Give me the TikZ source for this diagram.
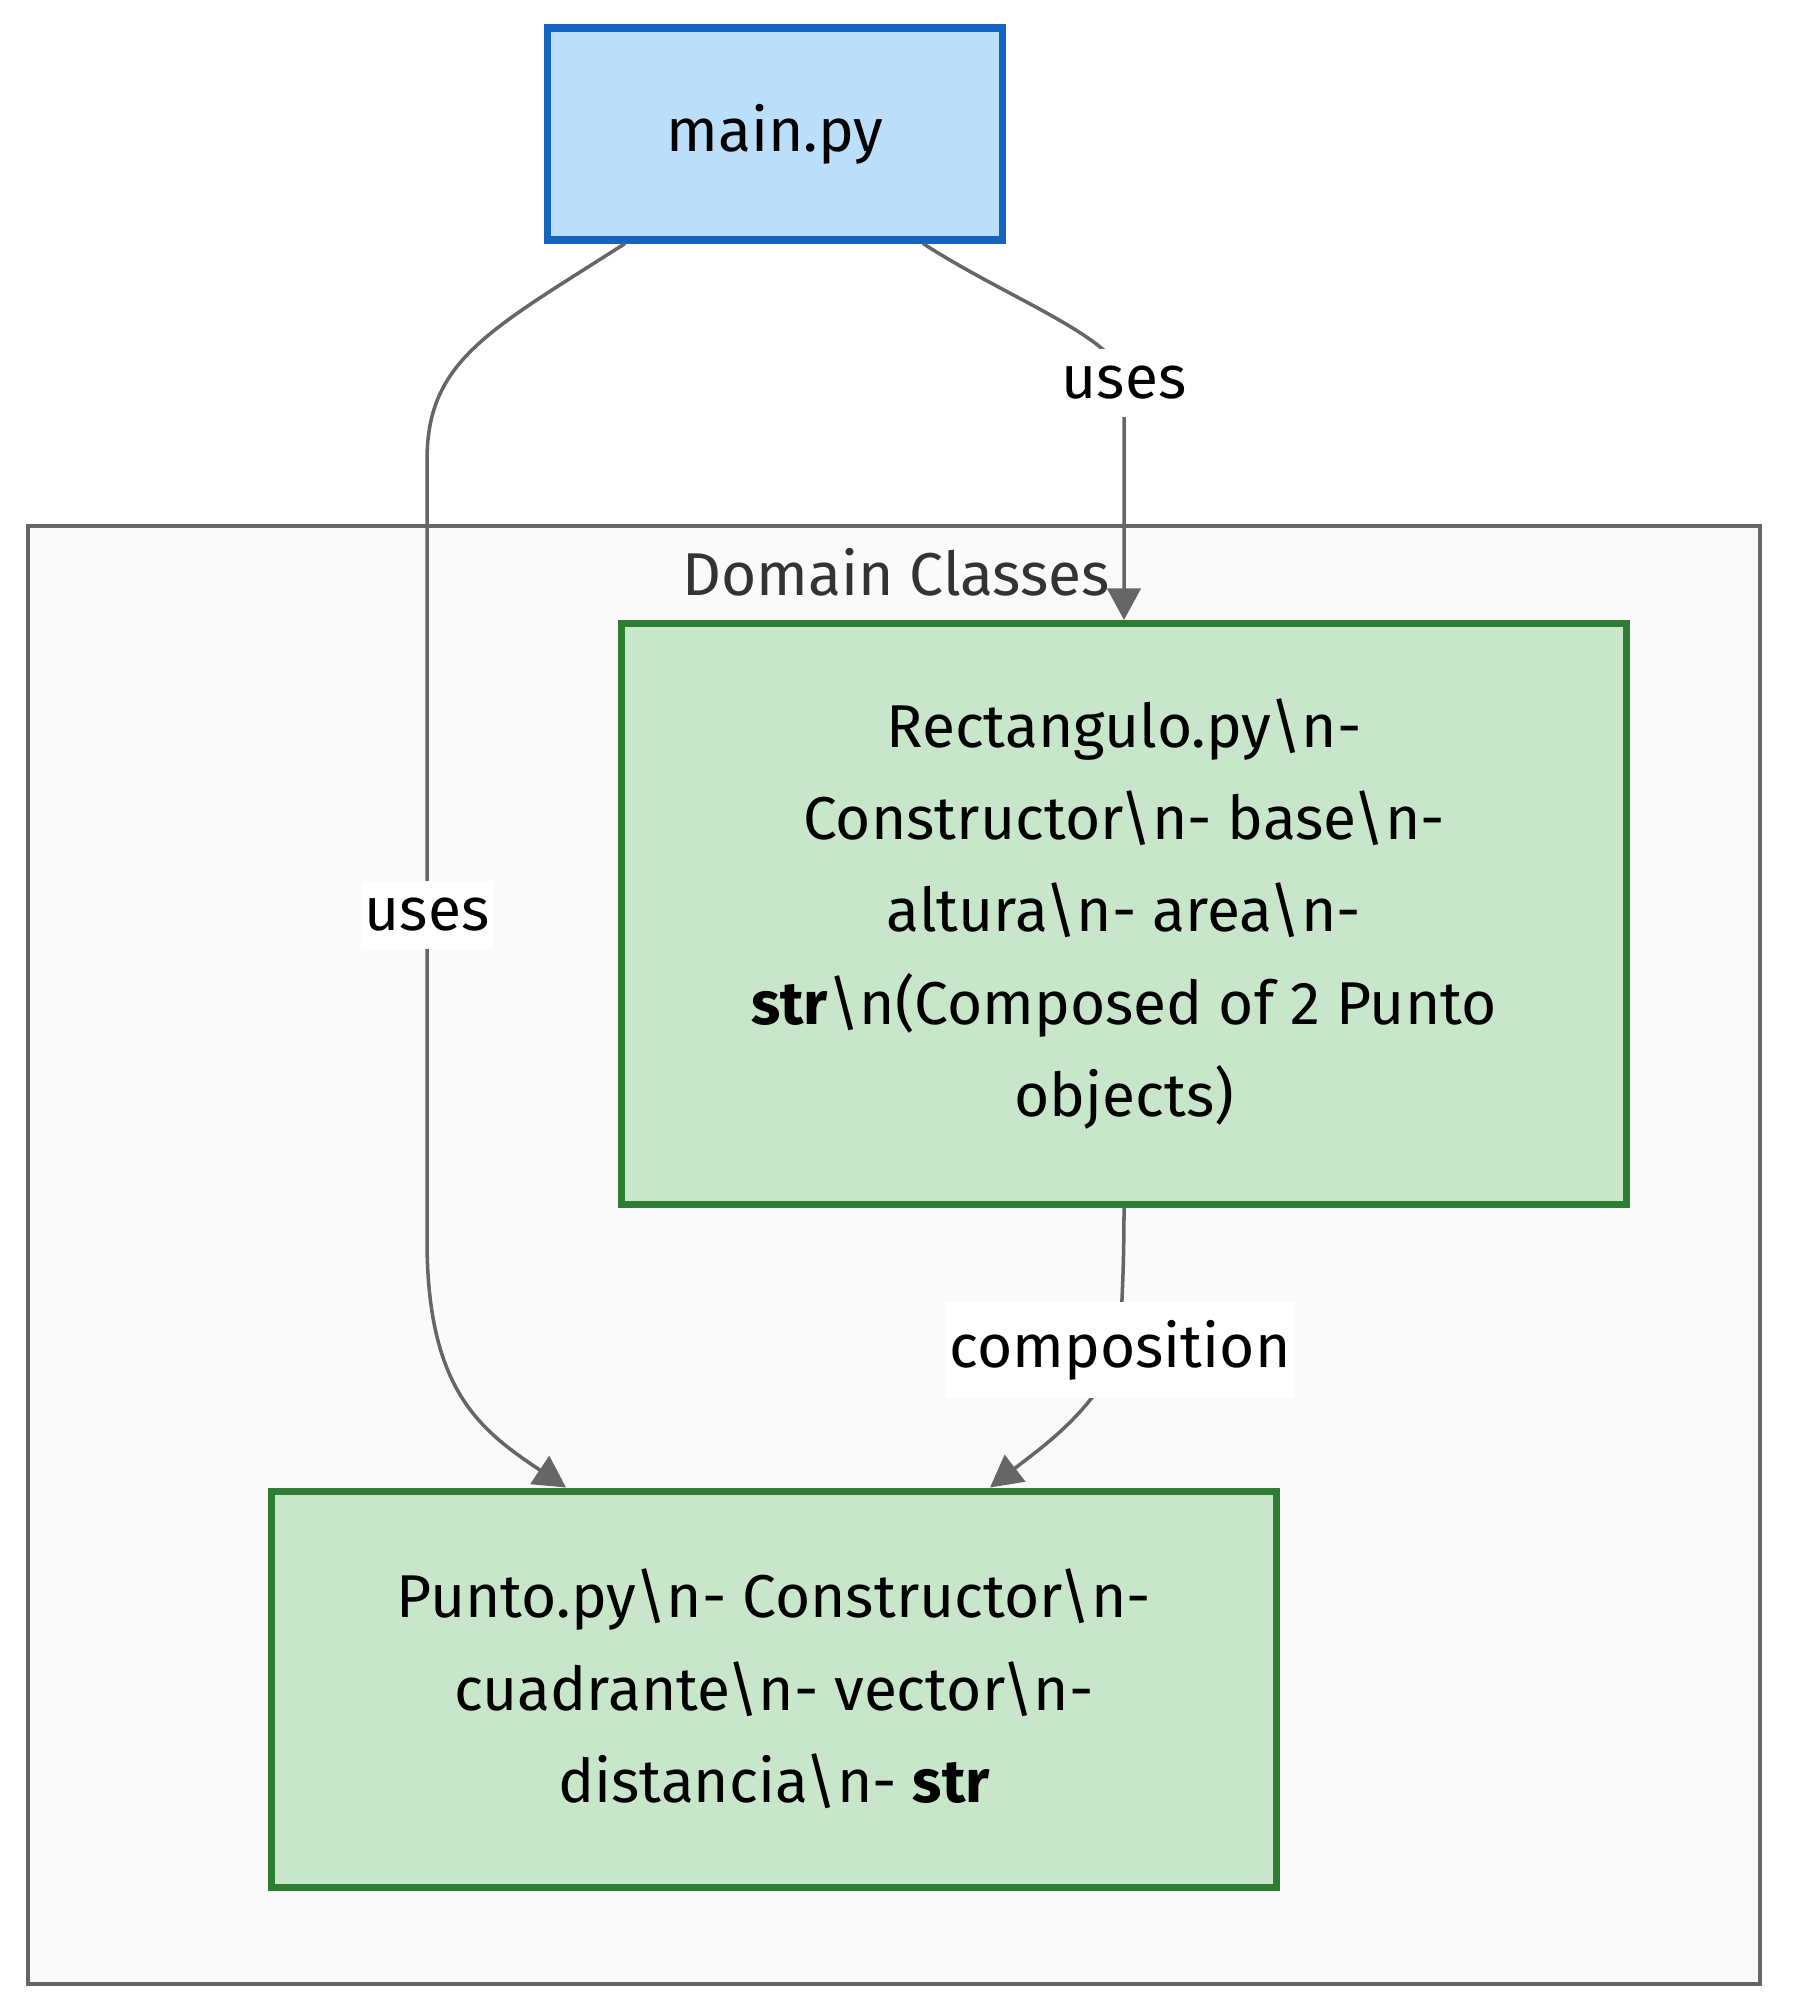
\documentclass[tikz,border=0pt]{standalone}
\usepackage{fontspec}
\setmainfont{Fira Sans}
\usetikzlibrary{arrows.meta}
\definecolor{mainfill}{HTML}{BBDEFB}
\definecolor{mainline}{HTML}{1565C0}
\definecolor{clsfill}{HTML}{C8E6C9}
\definecolor{clsline}{HTML}{2E7D32}
\definecolor{subfill}{HTML}{FAFAFA}
\definecolor{subtext}{HTML}{333333}
\definecolor{edgegray}{HTML}{666666}
\newcommand{\bsl}{\textbackslash}

\begin{document}
\begin{tikzpicture}[x=1cm,y=-1cm,font=\fontsize{17.2}{26.3}\selectfont,
  box/.style={draw=clsline,fill=clsfill,line width=2pt,align=center,inner sep=0pt},
  edge/.style={draw=edgegray,line width=1pt,-{Triangle[length=9pt,width=9.5pt]}},
  lbl/.style={fill=white,inner xsep=1pt,inner ysep=5pt}]
  \useasboundingbox (0,0) rectangle (17.92,20.16);
  \draw[fill=subfill,draw=edgegray,line width=1pt] (0.28,5.26) rectangle (17.60,19.84); \node[text=subtext] (dom) at (8.96,5.72) {Domain Classes};
  \node[box,draw=mainline,fill=mainfill,minimum width=4.55cm,minimum height=2.12cm] (main) at (7.75,1.34) {main.py};
  \node[box,minimum width=10.05cm,minimum height=5.81cm] (rect) at (11.24,9.14) {Rectangulo.py\bsl n-\\ Constructor\bsl n- base\bsl n-\\ altura\bsl n- area\bsl n-\\ \textbf{str}\bsl n(Composed of 2 Punto\\ objects)};
  \node[box,minimum width=10.05cm,minimum height=3.96cm] (punto) at (7.74,16.89) {Punto.py\bsl n- Constructor\bsl n-\\ cuadrante\bsl n- vector\bsl n-\\ distancia\bsl n- \textbf{str}};
  \draw[edge] ([xshift=-1.5cm]main.south) .. controls (4.9,3.3) and (4.27,3.6) .. (4.27,4.6) -- (4.27,9.15) node[lbl]{uses} -- (4.27,12.4) .. controls (4.27,13.9) and (4.8,14.3) .. ([xshift=-2.08cm]punto.north);
  \draw[edge] ([xshift=1.48cm]main.south) .. controls (10.1,3.0) and (11.24,3.4) .. (11.24,3.83) node[lbl]{uses} -- (rect.north);
  \draw[edge] (rect.south) .. controls (11.24,12.9) and (11.2,13.2) .. (11.2,13.5) node[lbl]{composition} .. controls (10.95,14.1) and (10.45,14.45) .. ([xshift=2.16cm]punto.north);
\end{tikzpicture}
\end{document}
